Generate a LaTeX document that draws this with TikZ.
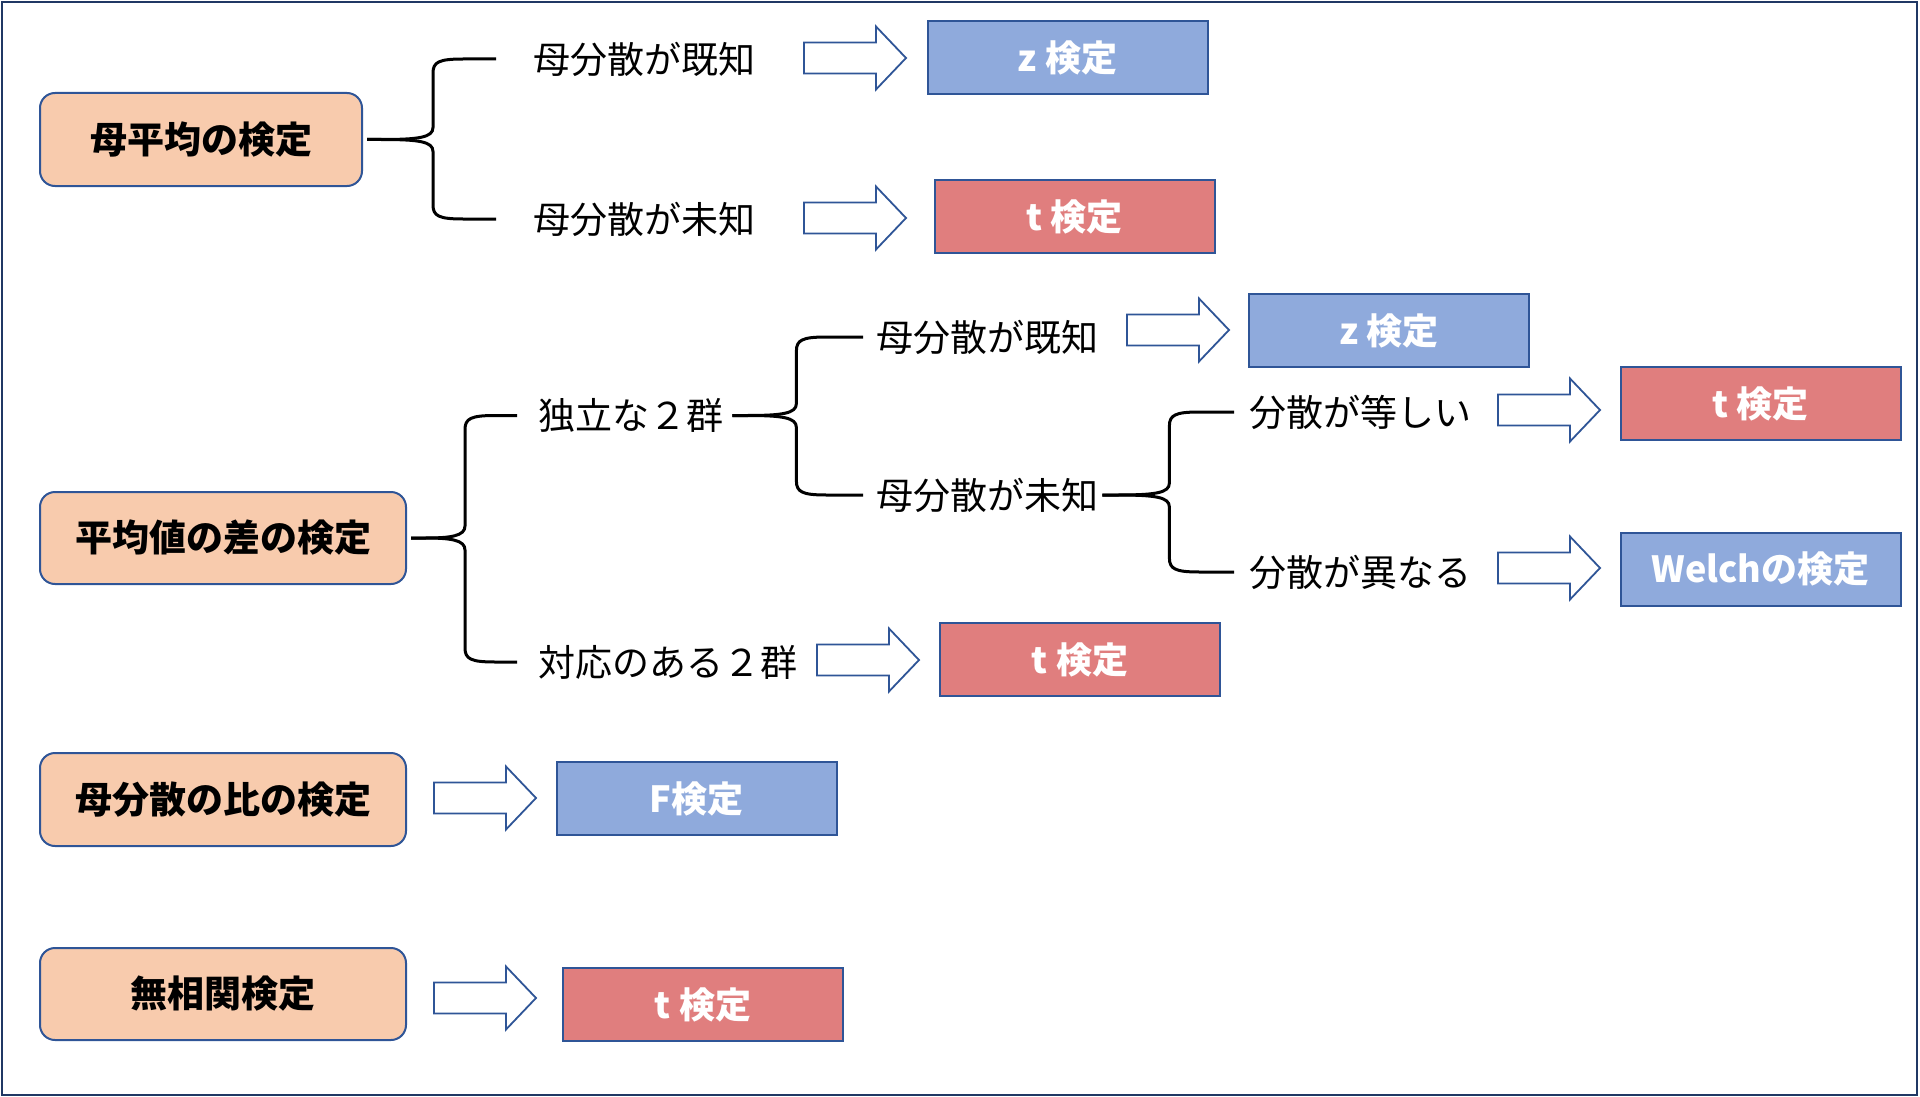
\documentclass[tikz,border=0pt]{standalone}
\usepackage{fontspec}
\newfontfamily\jp{Noto Sans CJK JP}
\usetikzlibrary{calc}
\definecolor{bordc}{HTML}{2F5597}
\definecolor{framec}{HTML}{203864}
\definecolor{catfill}{HTML}{F8CBAD}
\definecolor{bluefill}{HTML}{8FAADC}
\definecolor{redfill}{HTML}{E07E7E}
\tikzset{
  cat/.style={draw=bordc, line width=2pt, fill=catfill, rounded corners=15pt,
    minimum width=366, minimum height=92, inner sep=0,
    font=\jp\bfseries\fontsize{37}{44}\selectfont},
  res/.style={draw=bordc, line width=2pt, minimum width=280, minimum height=73,
    inner sep=0, text=white, font=\jp\bfseries\fontsize{36}{42}\selectfont},
  lab/.style={anchor=west, inner sep=0, font=\jp\fontsize{37}{44}\selectfont},
  brc/.style={draw=black, line width=3pt, line join=round},
  barrow/.style={draw=bordc, fill=white, line width=1.8pt, line join=miter}
}
\newcommand\brnch[6]{%
  \draw[brc] let \p1=([xshift=#2pt]#1.east), \p2=([xshift=-#4pt]#3.west) in
    (\p1) -- ({\x1+14pt},{\y1})
    .. controls ({\x1+#5pt-14pt},{\y1}) and ({\x1+#5pt},{\y1+(#6)*2pt}) .. ({\x1+#5pt},{\y1+(#6)*12pt})
    -- ({\x1+#5pt},{\y2-(#6)*14pt})
    .. controls ({\x1+#5pt},{\y2-(#6)*3pt}) and ({\x1+#5pt+6pt},{\y2}) .. ({\x1+#5pt+30pt},{\y2})
    -- (\p2);}
\newcommand\hollowarrow[1]{%
  \draw[barrow] (#1) ++(0,-15.5) -- ++(72,0) -- ++(0,-16) -- ++(30,31.5)
    -- ++(-30,31.5) -- ++(0,-16) -- ++(-72,0) -- cycle;}
\begin{document}
\begin{tikzpicture}[x=1pt,y=-1pt]
\useasboundingbox (0,0) rectangle (1920,1097);
\draw[framec, line width=2.5pt] (2,2) rectangle (1917,1095);

% category boxes
\node[cat, minimum width=322, minimum height=93] (B1) at (201,139.5) {母平均の検定};
\node[cat] (B2) at (223,538) {平均値の差の検定};
\node[cat, minimum height=93] (B3) at (223,799.5) {母分散の比の検定};
\node[cat] (B4) at (223,994) {無相関検定};

% condition labels
\node[lab] (T1) at (533,59) {母分散が既知};
\node[lab] (T2) at (533,219) {母分散が未知};
\node[lab] (T3) at (538,415.5) {独立な２群};
\node[lab] (T4) at (538,662) {対応のある２群};
\node[lab] (T5) at (876,337) {母分散が既知};
\node[lab] (T6) at (876,495) {母分散が未知};
\node[lab] (T7) at (1249,412) {分散が等しい};
\node[lab] (T8) at (1249,572) {分散が異なる};

% result boxes
\node[res, fill=bluefill] (R1) at (1067.5,58) {z 検定};
\node[res, fill=redfill] (R2) at (1074.5,216.5) {t 検定};
\node[res, fill=bluefill] (R3) at (1389,330.5) {z 検定};
\node[res, fill=redfill] (R4) at (1760.5,403.5) {t 検定};
\node[res, fill=bluefill] (R5) at (1760.5,569) {Welchの検定};
\node[res, fill=redfill] (R6) at (1080,659.5) {t 検定};
\node[res, fill=bluefill] (R7) at (696.5,798.5) {F検定};
\node[res, fill=redfill] (R8) at (703,1004.5) {t 検定};

% braces
\brnch{B1}{4}{T1}{37}{66}{1}
\brnch{B1}{4}{T2}{37}{66}{-1}
\brnch{B2}{4}{T3}{21}{54}{1}
\brnch{B2}{4}{T4}{21}{54}{-1}
\brnch{T3}{9}{T5}{13}{64}{1}
\brnch{T3}{9}{T6}{13}{64}{-1}
\brnch{T6}{4}{T7}{15}{67}{1}
\brnch{T6}{4}{T8}{15}{67}{-1}

% block arrows
\coordinate (A1) at (804,58);
\coordinate (A2) at (804,218);
\coordinate (A3) at (1127,330);
\coordinate (A4) at (1498,410);
\coordinate (A5) at (1498,568);
\coordinate (A6) at (817,660);
\coordinate (A7) at (434,798);
\coordinate (A8) at (434,998);
\foreach \a in {A1,A2,A3,A4,A5,A6,A7,A8} {\hollowarrow{\a}}
\end{tikzpicture}
\end{document}
